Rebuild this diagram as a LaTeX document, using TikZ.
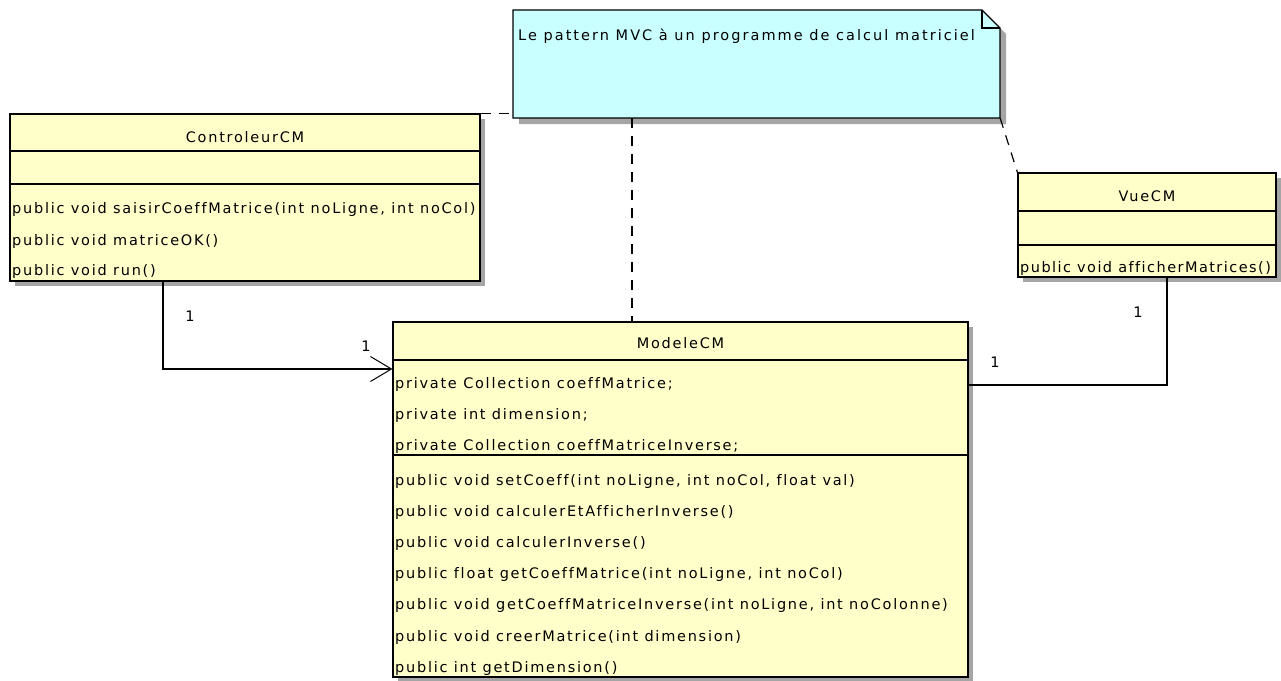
\documentclass[tikz,border=0pt]{standalone}
\usepackage{fontspec}
\setmainfont{DejaVu Sans}[LetterSpace=12,Ligatures={NoCommon}]
\usetikzlibrary{arrows.meta}
\definecolor{clsfill}{RGB}{255,255,202}
\definecolor{notefill}{RGB}{202,255,255}
\definecolor{shadowc}{RGB}{165,165,165}
\begin{document}
\begin{tikzpicture}[x=1pt,y=-1pt,
  clsbox/.style={draw=black, line width=1.2pt, fill=clsfill, inner sep=0pt},
  shad/.style={fill=shadowc},
  sepline/.style={draw=black, line width=1.2pt},
  txt/.style={anchor=base west, inner sep=0pt, font=\fontsize{14.5}{16}\selectfont},
  ttl/.style={anchor=base, inner sep=0pt, font=\fontsize{14.5}{16}\selectfont},
  mult/.style={anchor=base, inner sep=0pt, font=\fontsize{14.5}{16}\selectfont},
  dashline/.style={draw=black, line width=1.2pt, dash pattern=on 10pt off 8pt},
  assoc/.style={draw=black, line width=1.2pt},
  navarrow/.style={-{Straight Barb[length=21pt,width=25pt,line width=1pt]}}
]
\useasboundingbox (0,0) rectangle (1281,680);
\fill[white] (0,0) rectangle (1281,680);

% ---------- shadows ----------
\fill[shad] (519,16) -- (988,16) -- (1006,34) -- (1006,124) -- (519,124) -- cycle;
\fill[shad] (15,119) rectangle (485,286);
\fill[shad] (1023,178) rectangle (1281,282);
\fill[shad] (398,327) rectangle (973,682);

% ---------- note ----------
\filldraw[fill=notefill, draw=black, line width=1.2pt]
  (513,10) -- (982,10) -- (1000,28) -- (1000,118) -- (513,118) -- cycle;
\draw[black, line width=1.2pt] (982,10) -- (982,28) -- (1000,28);
\node[inner sep=0pt, minimum width=487pt, minimum height=108pt] (note) at (756.5,64) {};
\node[txt] (notetxt) at (518,40) {\addfontfeature{LetterSpace=14}Le pattern MVC à un programme de calcul matriciel};

% ---------- ControleurCM ----------
\node[clsbox, minimum width=470pt, minimum height=167pt] (ctrl) at (245,197.5) {};
\draw[sepline] (10,151) -- (480,151);
\draw[sepline] (10,184) -- (480,184);
\node[ttl] (ctrlname) at (245,142) {ControleurCM};
\node[txt] (c1) at (12,213) {public void saisirCoeffMatrice(int noLigne, int noCol)};
\node[txt] (c2) at (12,245) {public void matriceOK()};
\node[txt] (c3) at (12,275) {public void run()};

% ---------- VueCM ----------
\node[clsbox, minimum width=258pt, minimum height=104pt] (vue) at (1147,225) {};
\draw[sepline] (1018,211) -- (1276,211);
\draw[sepline] (1018,245) -- (1276,245);
\node[ttl] (vuename) at (1147,201) {VueCM};
\node[txt] (v1) at (1020,272) {\addfontfeature{LetterSpace=10}public void afficherMatrices()};

% ---------- ModeleCM ----------
\node[clsbox, minimum width=575pt, minimum height=355pt] (modele) at (680.5,499.5) {};
\draw[sepline] (393,360) -- (968,360);
\draw[sepline] (393,455) -- (968,455);
\node[ttl] (modname) at (680.5,348) {ModeleCM};
\node[txt] (a1) at (395,388) {private Collection coeffMatrice;};
\node[txt] (a2) at (395,419) {private int dimension;};
\node[txt] (a3) at (395,450) {private Collection coeffMatriceInverse;};
\node[txt] (m1) at (395,485) {public void setCoeff(int noLigne, int noCol, float val)};
\node[txt] (m2) at (395,516) {public void calculerEtAfficherInverse()};
\node[txt] (m3) at (395,547) {public void calculerInverse()};
\node[txt] (m4) at (395,578) {public float getCoeffMatrice(int noLigne, int noCol)};
\node[txt] (m5) at (395,609) {public void getCoeffMatriceInverse(int noLigne, int noColonne)};
\node[txt] (m6) at (395,641) {public void creerMatrice(int dimension)};
\node[txt] (m7) at (395,672) {public int getDimension()};

% ---------- note anchors ----------
\draw[dashline] (ctrl.north east) -- (ctrl.north east -| note.west);
\coordinate (mtop) at (632,322);
\draw[dashline] (note.south -| mtop) -- (mtop);
\draw[dashline] (note.south east) -- (vue.north west);

% ---------- associations ----------
\coordinate (cA) at (163,369);
\draw[assoc, navarrow] (ctrl.south -| cA) |- (modele.west |- cA);
\coordinate (cB) at (1167,385);
\draw[assoc] (vue.south -| cB) |- (modele.east |- cB);

\node[mult] (mu1) at (190,321) {1};
\node[mult] (mu2) at (366,351) {1};
\node[mult] (mu3) at (1138,317) {1};
\node[mult] (mu4) at (995,367) {1};
\end{tikzpicture}
\end{document}
